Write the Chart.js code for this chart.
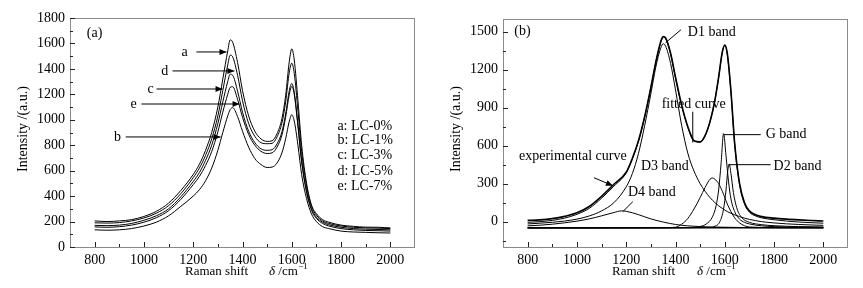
<!DOCTYPE html>
<html><head><meta charset="utf-8">
<script src="https://cdn.jsdelivr.net/npm/chart.js@4/dist/chart.umd.min.js"></script>
<style>
html,body{margin:0;padding:0;background:#fff;}
#wrap{position:relative;width:863px;height:288px;overflow:hidden;}
canvas{position:absolute;top:0;}
#c1{left:0;}
#c2{left:431px;}
</style></head><body>
<div id="wrap"><canvas id="c1" width="431" height="288"></canvas><canvas id="c2" width="432" height="288"></canvas></div>
<script>
// ---------- data: panel (a) ----------
const shiftA = [800,850,900,950,1000,1050,1100,1150,1200,1225,1250,1275,1300,1320,1340,1350,1360,1380,1400,1425,1450,1475,1500,1520,1540,1560,1575,1590,1600,1610,1625,1640,1660,1680,1700,1725,1750,1800,1850,1900,1950,2000];
const lc0 = [205,200,205,215,240,280,345,445,570,650,760,900,1100,1320,1540,1628,1610,1450,1230,1030,910,850,830,835,890,1010,1190,1460,1558,1470,1150,800,500,330,262,215,195,172,162,156,155,150];
const lc5 = [190,188,192,205,228,265,325,420,545,620,720,850,1030,1230,1430,1508,1495,1350,1150,970,870,820,812,815,865,975,1140,1375,1445,1365,1070,750,480,320,250,205,185,165,155,150,148,145];
const lc3 = [170,168,172,185,210,245,300,395,515,585,680,800,970,1140,1300,1358,1350,1225,1060,910,820,772,760,765,810,905,1045,1230,1285,1215,960,680,440,300,235,195,175,155,145,140,138,135];
const lc7 = [158,155,160,172,195,230,285,375,490,555,640,750,905,1060,1200,1255,1260,1160,1020,885,800,752,735,740,785,880,1020,1200,1262,1200,950,670,430,290,225,185,165,145,135,130,128,125];
const lc1 = [135,132,135,145,165,195,245,320,400,450,520,620,760,900,1030,1080,1095,1025,910,785,695,648,625,628,660,740,850,990,1040,990,800,570,380,260,200,160,145,125,118,115,112,110];

// ---------- data: panel (b) ----------
const shiftB = [800,850,900,950,1000,1050,1100,1150,1200,1225,1250,1275,1300,1320,1340,1350,1360,1380,1400,1425,1450,1475,1500,1520,1540,1560,1575,1590,1600,1610,1625,1640,1660,1680,1700,1725,1750,1800,1850,1900,1950,2000];
const experimental = [10,14,24,42,70,120,200,295,390,500,640,830,1060,1260,1420,1462,1450,1330,1140,920,750,640,630,680,790,960,1140,1340,1395,1330,1030,620,300,150,85,55,40,28,20,14,9,5];
const fitted = [-5,0,10,28,58,105,185,280,385,495,636,826,1055,1255,1415,1455,1445,1325,1135,915,745,636,628,678,788,958,1138,1336,1390,1325,1025,615,292,140,75,45,30,15,5,-3,-8,-12];
const d1Band = [-18,-12,-5,5,20,45,85,150,275,380,540,760,1010,1220,1370,1405,1385,1250,1040,760,540,400,300,240,190,150,125,105,92,80,66,54,40,28,18,8,0,-10,-17,-22,-26,-29];
const d4Shift = [800,850,900,950,1000,1050,1100,1150,1180,1200,1250,1300,1350,1400,1450,1500,1600,1700,1800,2000];
const d4Band = [-33,-28,-20,-9,4,22,46,72,85,82,55,22,-3,-22,-33,-39,-44,-47,-48,-49];
const d3Shift = [800,1000,1200,1350,1400,1425,1450,1475,1500,1520,1540,1550,1560,1575,1590,1600,1610,1625,1640,1660,1680,1700,1800,2000];
const d3Band = [-49,-49,-48,-47,-44,-20,25,100,190,270,335,345,335,300,240,190,140,80,30,-10,-32,-42,-47,-48];
const gShift = [800,1200,1450,1500,1525,1550,1565,1575,1585,1595,1605,1615,1625,1640,1660,1680,1700,1750,1800,1900,2000];
const gBand = [-49,-49,-47,-38,-18,38,128,250,460,695,520,320,180,80,20,-5,-18,-33,-39,-43,-45];
const d2Shift = [800,1200,1540,1560,1580,1595,1605,1612,1618,1625,1635,1650,1670,1700,1750,1800,1900,2000];
const d2Band = [-49,-49,-46,-36,0,100,250,400,455,380,230,100,30,-5,-24,-32,-39,-42];
const baseShift = [800,2000];
const baseLine = [-48,-48];

// ---------- ticks ----------
const xTickLabels = [800,1000,1200,1400,1600,1800,2000];
const xMinorTicks = [900,1100,1300,1500,1700,1900];
const yTickLabelsA = [0,200,400,600,800,1000,1200,1400,1600,1800];
const yMinorTicksA = [100,300,500,700,900,1100,1300,1500,1700];
const yTickLabelsB = [0,300,600,900,1200,1500];
const yMinorTicksB = [-150,150,450,750,1050,1350];

const FONT = "'Liberation Serif','Times New Roman',serif";
const pts = (xs, ys) => xs.map((v, i) => ({x: v, y: ys[i]}));
const ds = (xs, ys, w) => ({data: pts(xs, ys), borderColor: '#000', borderWidth: w || 1, pointRadius: 0, fill: false, cubicInterpolationMode: 'monotone'});

function drawArrowHead(ctx, x1, y1, x2, y2, len, half) {
  const ang = Math.atan2(y2 - y1, x2 - x1);
  ctx.beginPath();
  ctx.moveTo(x2, y2);
  ctx.lineTo(x2 - len * Math.cos(ang) + half * Math.sin(ang), y2 - len * Math.sin(ang) - half * Math.cos(ang));
  ctx.lineTo(x2 - len * Math.cos(ang) - half * Math.sin(ang), y2 - len * Math.sin(ang) + half * Math.cos(ang));
  ctx.closePath();
  ctx.fill();
}

function panelPlugin(cfg) {
  return {
    id: 'panel' + cfg.id,
    afterDraw(chart) {
      const {ctx, chartArea: a, scales: {x, y}} = chart;
      ctx.save();
      ctx.strokeStyle = '#8a8a8a'; ctx.lineWidth = 1;
      ctx.strokeRect(a.left + 0.5, a.top + 0.5, a.right - a.left - 1, a.bottom - a.top);
      ctx.strokeStyle = '#222';
      ctx.beginPath();
      const xt = (vals, len) => vals.forEach(v => { const p = Math.round(x.getPixelForValue(v)) + 0.5; ctx.moveTo(p, a.bottom); ctx.lineTo(p, a.bottom - len); });
      const yt = (vals, len) => vals.forEach(v => { const p = Math.round(y.getPixelForValue(v)) + 0.5; ctx.moveTo(a.left, p); ctx.lineTo(a.left + len, p); });
      xt(xTickLabels, 5); xt(xMinorTicks, 3); yt(cfg.yMajor, 5); yt(cfg.yMinor, 3);
      ctx.stroke();

      ctx.fillStyle = '#000'; ctx.strokeStyle = '#000'; ctx.lineWidth = 1;
      // y title
      ctx.save();
      ctx.font = '14px ' + FONT;
      ctx.translate(a.left - 47, 129); ctx.rotate(-Math.PI / 2);
      ctx.textAlign = 'center'; ctx.textBaseline = 'middle';
      ctx.fillText('Intensity /(a.u.)', 0, 0);
      ctx.restore();
      // x title
      const ty = 272;
      ctx.textBaseline = 'middle'; ctx.textAlign = 'left';
      ctx.font = '13px ' + FONT;
      ctx.fillText('Raman shift', a.left + cfg.xt1, ty);
      let px = a.left + cfg.xt2;
      ctx.font = 'italic 13px ' + FONT;
      ctx.fillText('δ', px, ty); px += ctx.measureText('δ').width;
      ctx.font = '13px ' + FONT;
      ctx.fillText(' /cm', px, ty); px += ctx.measureText(' /cm').width;
      ctx.font = '9px ' + FONT;
      ctx.fillText('−1', px + 0.5, ty - 5);

      // annotations
      ctx.font = '14px ' + FONT;
      const X = v => x.getPixelForValue(v), Y = v => y.getPixelForValue(v);
      for (const t of cfg.texts) {
        ctx.textAlign = t.align || 'left';
        ctx.fillText(t.s, X(t.x), Y(t.y));
      }
      for (const l of cfg.lines) {
        const x1 = X(l[0]), y1 = Y(l[1]), x2 = X(l[2]), y2 = Y(l[3]);
        ctx.beginPath(); ctx.moveTo(x1, y1); ctx.lineTo(x2, y2); ctx.stroke();
        if (l[4]) drawArrowHead(ctx, x1, y1, x2, y2, 7, 3);
      }
      ctx.restore();
    }
  };
}

function options(cfg) {
  return {
    responsive: false, animation: false, events: [],
    layout: {padding: {top: cfg.top, right: cfg.right, left: 0, bottom: 0}},
    plugins: {legend: {display: false}, tooltip: {enabled: false}},
    scales: {
      x: {type: 'linear', min: 700, max: 2100,
        afterFit: s => { s.height = 41; },
        afterBuildTicks: s => { s.ticks = xTickLabels.map(v => ({value: v})); },
        grid: {display: false, drawTicks: false}, border: {display: false},
        ticks: {padding: 5, color: '#000', autoSkip: false, maxRotation: 0, font: {family: FONT, size: 14}, callback: v => String(v)}},
      y: {type: 'linear', min: cfg.ymin, max: cfg.ymax,
        afterFit: s => { s.width = cfg.yw; },
        afterBuildTicks: s => { s.ticks = cfg.yMajor.map(v => ({value: v})); },
        grid: {display: false, drawTicks: false}, border: {display: false},
        ticks: {padding: 5, color: '#000', font: {family: FONT, size: 14}, callback: v => String(v)}}
    }
  };
}

const cfgA = {id: 'A', top: 18, right: 16, yw: 70, ymin: 0, ymax: 1800, yMajor: yTickLabelsA, yMinor: yMinorTicksA, xt1: 115, xt2: 199,
  texts: [
    {s: '(a)', x: 768, y: 1682},
    {s: 'a', x: 1165, y: 1533, align: 'center'},
    {s: 'd', x: 1084, y: 1384, align: 'center'},
    {s: 'c', x: 1027, y: 1242, align: 'center'},
    {s: 'e', x: 958, y: 1124, align: 'center'},
    {s: 'b', x: 893, y: 865, align: 'center'},
    {s: 'a: LC-0%', x: 1785, y: 951},
    {s: 'b: LC-1%', x: 1785, y: 841},
    {s: 'c: LC-3%', x: 1785, y: 723},
    {s: 'd: LC-5%', x: 1785, y: 597},
    {s: 'e: LC-7%', x: 1785, y: 480}
  ],
  lines: [
    [1213, 1533, 1335, 1533, true],
    [1116, 1384, 1367, 1384, true],
    [1051, 1242, 1319, 1242, true],
    [990, 1124, 1388, 1124, true],
    [926, 865, 1311, 865, true]
  ]};

const cfgB = {id: 'B', top: 19, right: 15, yw: 72, ymin: -200, ymax: 1600, yMajor: yTickLabelsB, yMinor: yMinorTicksB, xt1: 109, xt2: 194,
  texts: [
    {s: '(b)', x: 746, y: 1500},
    {s: 'D1 band', x: 1450, y: 1492},
    {s: 'fitted curve', x: 1474, y: 923, align: 'center'},
    {s: 'G band', x: 1766, y: 687},
    {s: 'D2 band', x: 1798, y: 437},
    {s: 'experimental curve', x: 765, y: 513},
    {s: 'D3 band', x: 1260, y: 434},
    {s: 'D4 band', x: 1207, y: 229}
  ],
  lines: [
    [1422, 1515, 1360, 1413, false],
    [1470, 868, 1470, 624, false],
    [1596, 687, 1746, 687, false],
    [1616, 450, 1786, 450, false],
    [1069, 347, 1146, 284, true],
    [1227, 158, 1186, 79, false]
  ]};

new Chart(document.getElementById('c1'), {
  type: 'line',
  data: {datasets: [ds(shiftA, lc0), ds(shiftA, lc1), ds(shiftA, lc3), ds(shiftA, lc5), ds(shiftA, lc7)]},
  options: options(cfgA),
  plugins: [panelPlugin(cfgA)]
});

new Chart(document.getElementById('c2'), {
  type: 'line',
  data: {datasets: [
    ds(shiftB, experimental, 1.6), ds(shiftB, fitted, 1), ds(shiftB, d1Band, 1),
    ds(d4Shift, d4Band, 1), ds(d3Shift, d3Band, 1), ds(gShift, gBand, 1), ds(d2Shift, d2Band, 1),
    ds(baseShift, baseLine, 1.6)
  ]},
  options: options(cfgB),
  plugins: [panelPlugin(cfgB)]
});
</script>
</body></html>
